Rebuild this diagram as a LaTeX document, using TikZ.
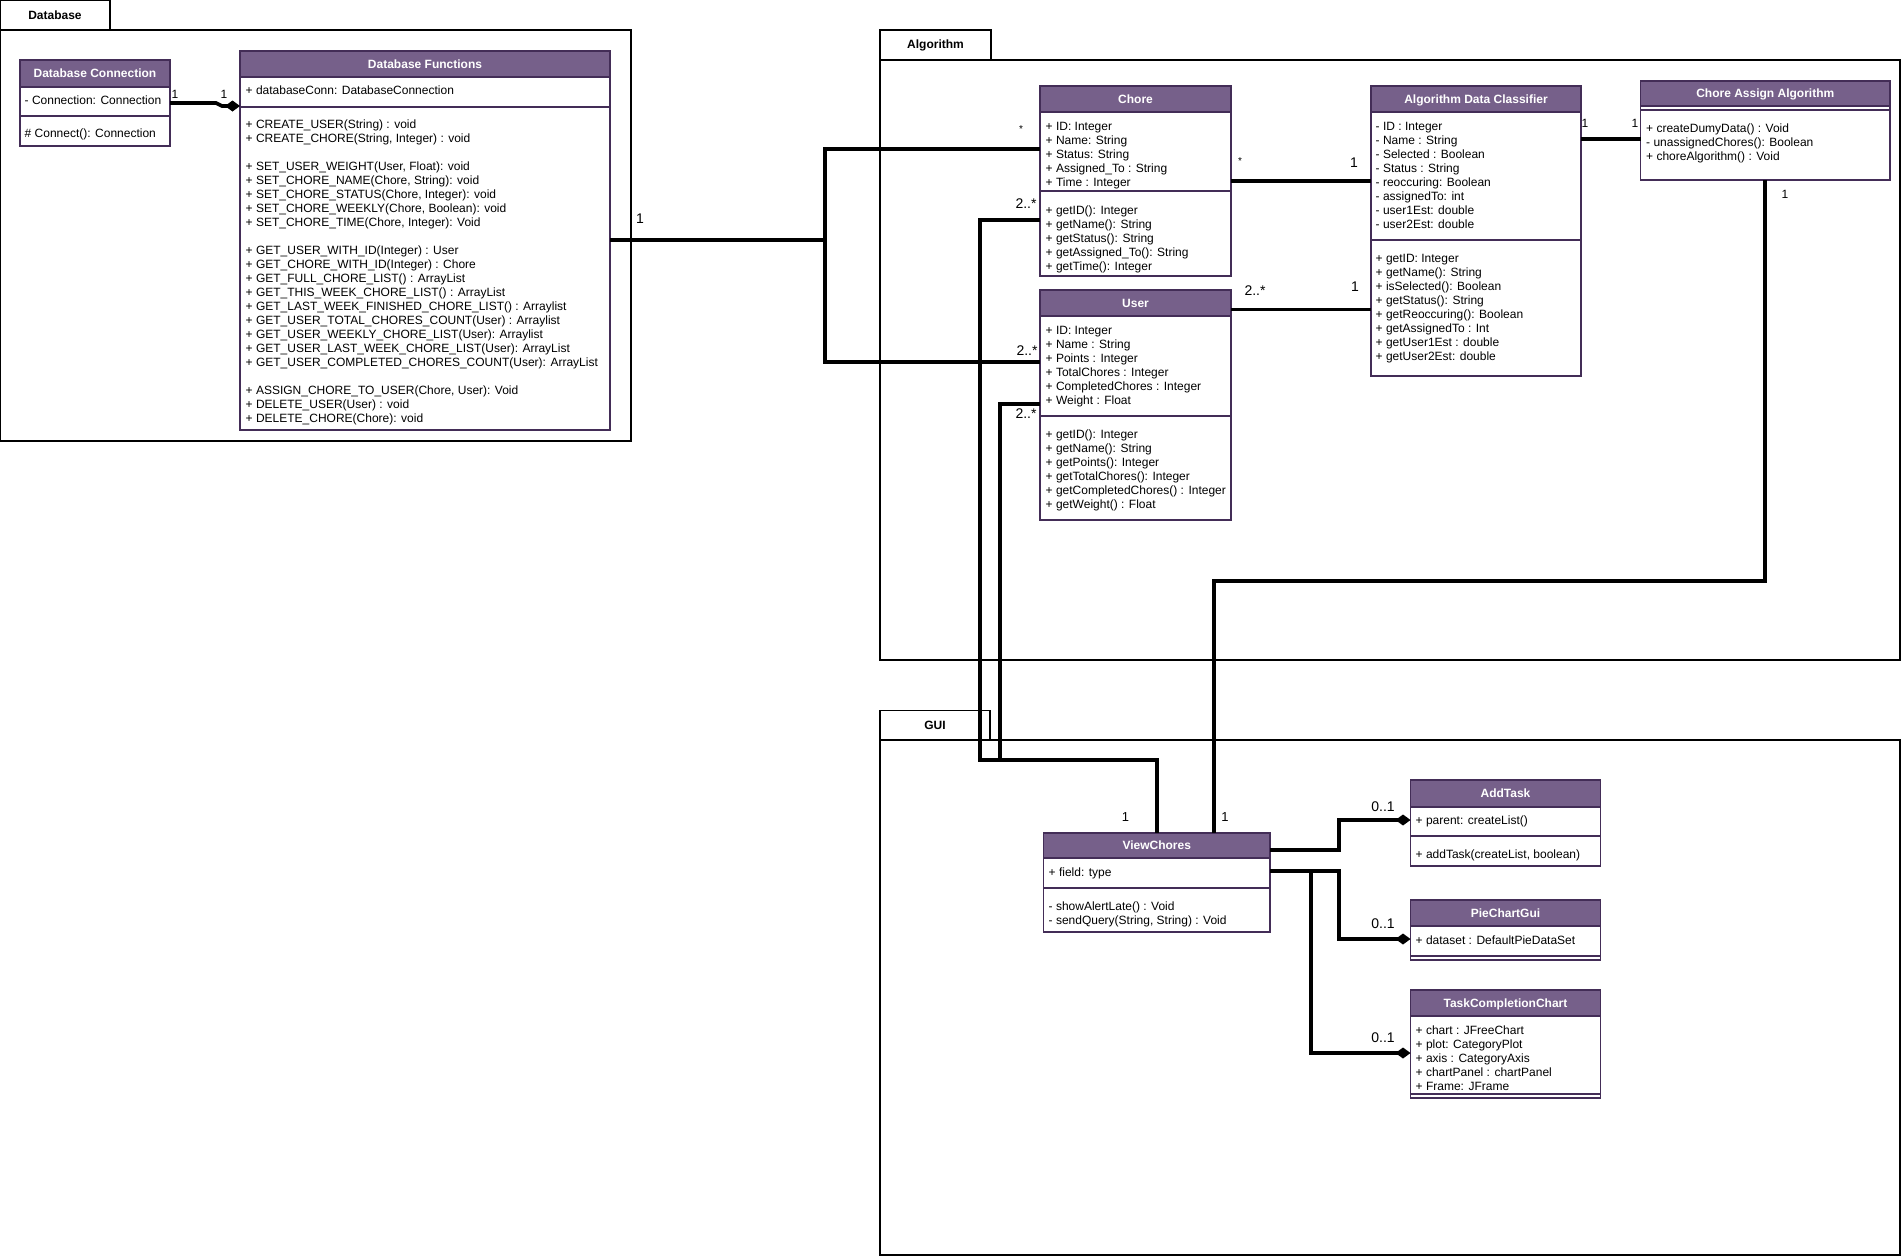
\documentclass[tikz,border=0pt]{standalone}
\usepackage{fontspec}
\setmainfont{Liberation Sans}
\usetikzlibrary{arrows.meta}

\definecolor{hdr}{HTML}{76608A}
\definecolor{edge}{HTML}{432D57}

\tikzset{
  pkg/.style={draw=black, line width=1.3pt, fill=white},
  boxline/.style={draw=edge, line width=1.2pt},
  hdrtext/.style={anchor=base, inner sep=0, text=white, font=\bfseries\fontsize{12}{14}\selectfont},
  txt/.style={anchor=base west, inner sep=0, font=\fontsize{12}{14}\selectfont},
  mult/.style={inner sep=0, font=\fontsize{14}{16}\selectfont},
  midmult/.style={inner sep=0, font=\fontsize{13}{15}\selectfont},
  smallmult/.style={inner sep=0, font=\fontsize{12}{14}\selectfont},
  starmult/.style={inner sep=0, font=\fontsize{10}{12}\selectfont},
  tabtext/.style={inner sep=0, font=\bfseries\fontsize{12}{14}\selectfont},
  assoc/.style={draw=black, line width=3.7pt},
  comp/.style={assoc, -{Diamond[length=15pt,width=11pt]}},
}

% class box: name, left, top, right, bottom, header bottom, separator, title
\newcommand\umlbox[8]{%
  \fill[white] (#2,-#3) rectangle (#4,-#5);
  \node[inner sep=0, outer sep=0, anchor=north west,
        minimum width={(#4-#2)*1pt}, minimum height={(#5-#3)*1pt}] (#1) at (#2,-#3) {};
  \fill[hdr] (#2,-#3) rectangle (#4,-#6);
  \draw[boxline] (#2,-#6) -- (#4,-#6);
  \draw[boxline] (#2,-#7) -- (#4,-#7);
  \draw[boxline] (#1.north west) rectangle (#1.south east);
  \node[hdrtext] (#1-title) at ({(#2+#4)/2},{-(#3+#6)/2-4.3}) {#8};
}

% member lines: left, first baseline, list of lines (14pt apart)
\newcommand\classlines[3]{%
  \foreach \txtline [count=\k from 0] in {#3}
    \node[txt] at ({#1},{-(#2)-14*\k}) {\txtline};
}

\begin{document}
\begin{tikzpicture}[x=1pt,y=1pt]
\useasboundingbox (0,0) rectangle (1901,-1256);

% ---------- packages ----------
\draw[pkg] (0.65,-30) rectangle (631,-441);
\draw[pkg] (0.65,-0.65) rectangle (110,-30);
\node[tabtext] (dbtab) at (55,-15.5) {Database};

\draw[pkg] (880,-60) rectangle (1900,-660);
\draw[pkg] (880,-30) rectangle (991,-60);
\node[tabtext] (algtab) at (935.5,-45.5) {Algorithm};

\draw[pkg] (880,-740) rectangle (1900,-1255);
\draw[pkg] (880,-710.5) rectangle (990,-740);
\node[tabtext] (guitab) at (935,-725.5) {GUI};

% ---------- Database package ----------
\umlbox{dc}{20}{60}{170}{146}{87}{116}{Database Connection}
\classlines{24.5}{104.5}{{- Connection: Connection}}
\classlines{24.5}{137.5}{{\# Connect(): Connection}}

\umlbox{df}{240}{51}{610}{430}{77}{107}{Database Functions}
\classlines{245.5}{94.5}{{+ databaseConn: DatabaseConnection}}
\classlines{245.5}{128.5}{%
  {+ CREATE\_USER(String) : void},
  {+ CREATE\_CHORE(String, Integer) : void},
  {},
  {+ SET\_USER\_WEIGHT(User, Float): void},
  {+ SET\_CHORE\_NAME(Chore, String): void},
  {+ SET\_CHORE\_STATUS(Chore, Integer): void},
  {+ SET\_CHORE\_WEEKLY(Chore, Boolean): void},
  {+ SET\_CHORE\_TIME(Chore, Integer): Void},
  {},
  {+ GET\_USER\_WITH\_ID(Integer) : User},
  {+ GET\_CHORE\_WITH\_ID(Integer) : Chore},
  {+ GET\_FULL\_CHORE\_LIST() : ArrayList},
  {+ GET\_THIS\_WEEK\_CHORE\_LIST() : ArrayList},
  {+ GET\_LAST\_WEEK\_FINISHED\_CHORE\_LIST() : Arraylist},
  {+ GET\_USER\_TOTAL\_CHORES\_COUNT(User) : Arraylist},
  {+ GET\_USER\_WEEKLY\_CHORE\_LIST(User): Arraylist},
  {+ GET\_USER\_LAST\_WEEK\_CHORE\_LIST(User): ArrayList},
  {+ GET\_USER\_COMPLETED\_CHORES\_COUNT(User): ArrayList},
  {},
  {+ ASSIGN\_CHORE\_TO\_USER(Chore, User): Void},
  {+ DELETE\_USER(User) : void},
  {+ DELETE\_CHORE(Chore): void}}

% ---------- Algorithm package ----------
\umlbox{chore}{1040}{86}{1231}{276}{112}{191}{Chore}
\classlines{1045.5}{130.5}{%
  {+ ID: Integer},
  {+ Name: String},
  {+ Status: String},
  {+ Assigned\_To : String},
  {+ Time : Integer}}
\classlines{1045.5}{214.5}{%
  {+ getID(): Integer},
  {+ getName(): String},
  {+ getStatus(): String},
  {+ getAssigned\_To(): String},
  {+ getTime(): Integer}}

\umlbox{user}{1040}{290}{1231}{520}{316}{416}{User}
\classlines{1045.5}{334.5}{%
  {+ ID: Integer},
  {+ Name : String},
  {+ Points : Integer},
  {+ TotalChores : Integer},
  {+ CompletedChores : Integer},
  {+ Weight : Float}}
\classlines{1045.5}{438.5}{%
  {+ getID(): Integer},
  {+ getName(): String},
  {+ getPoints(): Integer},
  {+ getTotalChores(): Integer},
  {+ getCompletedChores() : Integer},
  {+ getWeight() : Float}}

\umlbox{adc}{1371}{86}{1581}{376}{112}{240}{Algorithm Data Classifier}
\classlines{1375.5}{130.5}{%
  {- ID : Integer},
  {- Name : String},
  {- Selected : Boolean},
  {- Status : String},
  {- reoccuring: Boolean},
  {- assignedTo: int},
  {- user1Est: double},
  {- user2Est: double}}
\classlines{1375.5}{262.5}{%
  {+ getID: Integer},
  {+ getName(): String},
  {+ isSelected(): Boolean},
  {+ getStatus(): String},
  {+ getReoccuring(): Boolean},
  {+ getAssignedTo : Int},
  {+ getUser1Est : double},
  {+ getUser2Est: double}}

\umlbox{caa}{1640.5}{81}{1890}{180}{106}{110}{Chore Assign Algorithm}
\classlines{1646}{132.5}{%
  {+ createDumyData() : Void},
  {- unassignedChores(): Boolean},
  {+ choreAlgorithm() : Void}}

% ---------- GUI package ----------
\umlbox{vc}{1043.5}{833}{1270}{932}{858}{888}{ViewChores}
\classlines{1048.5}{876.5}{{+ field: type}}
\classlines{1048.5}{910.5}{%
  {- showAlertLate() : Void},
  {- sendQuery(String, String) : Void}}

\umlbox{addtask}{1410.5}{780}{1600.5}{866}{807}{836}{AddTask}
\classlines{1415.5}{824.5}{{+ parent: createList()}}
\classlines{1415.5}{858.5}{{+ addTask(createList, boolean)}}

\umlbox{pie}{1410.5}{900}{1600.5}{960}{926}{956}{PieChartGui}
\classlines{1415.5}{944.5}{{+ dataset : DefaultPieDataSet}}

\umlbox{tcc}{1410.5}{990}{1600.5}{1098}{1016}{1094}{TaskCompletionChart}
\classlines{1415.5}{1034.5}{%
  {+ chart : JFreeChart},
  {+ plot: CategoryPlot},
  {+ axis : CategoryAxis},
  {+ chartPanel : chartPanel},
  {+ Frame: JFrame}}

% ---------- connector bends ----------
\coordinate (dbj)  at (825,-240);
\coordinate (busA) at (980,-760);
\coordinate (busB) at (1000,-760);
\coordinate (caaj) at (1214,-581);

% ---------- connectors ----------
\draw[comp] ([yshift=-43pt]dc.north east) -- ++(46,0) -- ++(6,-3) -- ([yshift=-55pt]df.north west);

\draw[assoc] ([yshift=-189pt]df.north east) -- (dbj);
\draw[assoc] ([yshift=-63pt]chore.north west) -| (dbj) |- ([yshift=-72pt]user.north west);

\draw[assoc] ([yshift=-134pt]chore.north west) -| (busA) -| (vc.north);
\draw[assoc] ([yshift=-114pt]user.north west) -| (busB);
\draw[assoc] (caa.south) |- (caaj) -- (caaj |- vc.north);

\draw[assoc] ([yshift=-95pt]chore.north east) -- ([yshift=-95pt]adc.north west);
\draw[assoc] ([yshift=-19.5pt]user.north east) -- ([yshift=-223.5pt]adc.north west);
\draw[assoc] ([yshift=-53pt]adc.north east) -- ([yshift=-58pt]caa.north west);

\draw[comp] ([yshift=-17pt]vc.north east) -- ++(69,0) |- ([yshift=-40pt]addtask.north west);
\draw[comp] ([yshift=-38pt]vc.north east) -- ++(69,0) |- ([yshift=-39pt]pie.north west);
\draw[comp] ([yshift=-38pt]vc.north east) -- ++(41,0) |- ([yshift=-63pt]tcc.north west);

% ---------- multiplicities ----------
\node[smallmult] (m1)  at (175,-94)   {1};
\node[smallmult] (m2)  at (224,-94)   {1};
\node[mult]      (m3)  at (640,-219)  {1};
\node[starmult]  (m4)  at (1021,-129) {*};
\node[mult]      (m5)  at (1026,-204) {2..*};
\node[mult]      (m6)  at (1027,-351) {2..*};
\node[mult]      (m7)  at (1026,-414) {2..*};
\node[starmult]  (m8)  at (1240,-161) {*};
\node[mult]      (m9)  at (1354,-163) {1};
\node[mult]      (m10) at (1255,-291) {2..*};
\node[mult]      (m11) at (1355,-287) {1};
\node[smallmult] (m12) at (1585,-123) {1};
\node[smallmult] (m13) at (1635,-123) {1};
\node[smallmult] (m14) at (1785,-194) {1};
\node[midmult]   (m15) at (1125.5,-817) {1};
\node[midmult]   (m16) at (1225,-817) {1};
\node[mult]      (m17) at (1383,-807) {0..1};
\node[mult]      (m18) at (1383,-924) {0..1};
\node[mult]      (m19) at (1383,-1038) {0..1};

\end{tikzpicture}
\end{document}
